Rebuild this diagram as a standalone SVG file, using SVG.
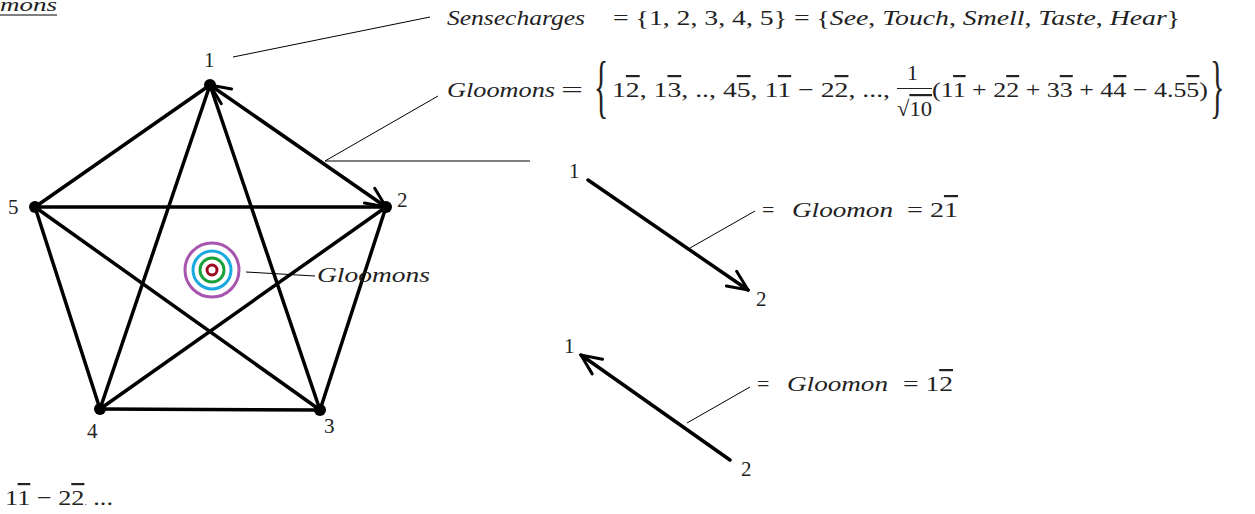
<svg xmlns="http://www.w3.org/2000/svg" width="1255" height="514" viewBox="0 0 1255 514">
<style>
.t{font-family:"Liberation Serif","DejaVu Serif",serif;font-size:22px;fill:#222}
.n{font-size:21px}
.i{font-style:italic}
.ov{text-decoration:overline}
.br{font-size:50px}
.edge{stroke:#000;stroke-width:3.5;fill:none;stroke-linecap:round}
.thin{stroke:#000;stroke-width:1;fill:none}
.dot{fill:#000}
.arr{stroke:#000;stroke-width:3.5;fill:none;stroke-linecap:round}
</style>
<defs>
<marker id="v" viewBox="-22 -11 24 22" refX="0" refY="0" markerWidth="24" markerHeight="22" markerUnits="userSpaceOnUse" orient="auto-start-reverse">
<path d="M-20,-9 L0,0 L-20,9" fill="none" stroke="#000" stroke-width="3" stroke-linecap="round"/>
</marker>
</defs>
<rect width="1255" height="514" fill="#fff"/>

<g id="title-partial">
<text class="t i" x="0" y="11" style="font-size:19px" textLength="57" lengthAdjust="spacingAndGlyphs">mons</text>
<line class="thin" x1="0" y1="15" x2="57" y2="15"/>
</g>

<g id="connectors">
<line class="edge" x1="386" y1="207" x2="320" y2="410"/>
<line class="edge" x1="320" y1="410" x2="100" y2="409"/>
<line class="edge" x1="100" y1="409" x2="35" y2="207"/>
<line class="edge" x1="35" y1="207" x2="210" y2="85"/>
<line class="edge" x1="210" y1="85" x2="320" y2="410"/>
<line class="edge" x1="210" y1="85" x2="100" y2="409"/>
<line class="edge" x1="386" y1="207" x2="100" y2="409"/>
<line class="edge" x1="35" y1="207" x2="386" y2="207"/>
<line class="edge" x1="35" y1="207" x2="320" y2="410"/>
<line class="edge" x1="210" y1="85" x2="386" y2="207" marker-start="url(#v)" marker-end="url(#v)"/>
<line class="arr" x1="588" y1="180" x2="748" y2="290" marker-end="url(#v)"/>
<line class="arr" x1="730" y1="460" x2="581" y2="355" marker-end="url(#v)"/>
<line class="thin" x1="233" y1="57" x2="430" y2="17"/>
<polyline class="thin" points="438,96 325,161 530,161"/>
<line class="thin" x1="246" y1="272" x2="315" y2="276"/>
<line class="thin" x1="690" y1="248" x2="755" y2="211"/>
<line class="thin" x1="687" y1="423" x2="750" y2="387"/>
</g>

<g id="node1"><circle class="dot" cx="210" cy="85" r="6"/><text class="t n" x="204" y="67">1</text></g>
<g id="node2"><circle class="dot" cx="386" cy="207" r="6"/><text class="t n" x="397" y="207">2</text></g>
<g id="node3"><circle class="dot" cx="320" cy="410" r="6"/><text class="t n" x="324" y="433">3</text></g>
<g id="node4"><circle class="dot" cx="100" cy="409" r="6"/><text class="t n" x="87" y="438">4</text></g>
<g id="node5"><circle class="dot" cx="35" cy="207" r="6"/><text class="t n" x="8" y="214">5</text></g>

<g id="target">
<circle cx="212" cy="270" r="27" fill="none" stroke="#a855b0" stroke-width="3"/>
<circle cx="212" cy="270" r="19" fill="none" stroke="#1aa9e0" stroke-width="3"/>
<circle cx="212" cy="270" r="12" fill="none" stroke="#1aa13a" stroke-width="3"/>
<circle cx="212" cy="270" r="5" fill="none" stroke="#9b0a1e" stroke-width="3"/>
<text class="t i" x="317" y="282" textLength="113" lengthAdjust="spacingAndGlyphs">Gloomons</text>
</g>

<g id="sensecharges">
<text class="t i" x="447" y="25" textLength="138" lengthAdjust="spacingAndGlyphs">Sensecharges</text>
<text class="t" x="613" y="25" textLength="567" lengthAdjust="spacingAndGlyphs">= {1, 2, 3, 4, 5} = {<tspan class="i">See</tspan>, <tspan class="i">Touch</tspan>, <tspan class="i">Smell</tspan>, <tspan class="i">Taste</tspan>, <tspan class="i">Hear</tspan>}</text>
</g>

<g id="gloomons-set">
<text class="t i" x="447" y="97" textLength="108" lengthAdjust="spacingAndGlyphs">Gloomons</text>
<text class="t" x="561" y="97" textLength="22" lengthAdjust="spacingAndGlyphs">=</text>
<text class="t br" x="0" y="0" transform="translate(594,110) scale(0.6,1.4)">{</text>
<text class="t" x="612" y="97" textLength="278" lengthAdjust="spacingAndGlyphs">1<tspan class="ov">2</tspan>, 1<tspan class="ov">3</tspan>, .., 4<tspan class="ov">5</tspan>, 1<tspan class="ov">1</tspan> − 2<tspan class="ov">2</tspan>, ...,</text>
<text class="t" x="907" y="80">1</text>
<line x1="897" y1="88.5" x2="932" y2="88.5" stroke="#222" stroke-width="1.2"/>
<text class="t" x="897" y="116" textLength="35" lengthAdjust="spacingAndGlyphs">√<tspan class="ov">10</tspan></text>
<text class="t" x="932" y="97" textLength="276" lengthAdjust="spacingAndGlyphs">(1<tspan class="ov">1</tspan> + 2<tspan class="ov">2</tspan> + 3<tspan class="ov">3</tspan> + 4<tspan class="ov">4</tspan> − 4.5<tspan class="ov">5</tspan>)</text>
<text class="t br" x="0" y="0" transform="translate(1210,110) scale(0.6,1.4)">}</text>
</g>

<g id="gloomon-21">
<text class="t n" x="569" y="178">1</text>
<text class="t n" x="756" y="306">2</text>
<text class="t" x="762" y="217">=</text>
<text class="t i" x="792" y="217" textLength="101" lengthAdjust="spacingAndGlyphs">Gloomon</text>
<text class="t" x="907" y="217" textLength="51" lengthAdjust="spacingAndGlyphs">= 2<tspan class="ov">1</tspan></text>
</g>

<g id="gloomon-12">
<text class="t n" x="564" y="353">1</text>
<text class="t n" x="741" y="476">2</text>
<text class="t" x="757" y="391">=</text>
<text class="t i" x="787" y="391" textLength="101" lengthAdjust="spacingAndGlyphs">Gloomon</text>
<text class="t" x="903" y="391" textLength="50" lengthAdjust="spacingAndGlyphs">= 1<tspan class="ov">2</tspan></text>
</g>

<g id="bottom-note">
<text class="t" x="5" y="505" textLength="108" lengthAdjust="spacingAndGlyphs">1<tspan class="ov">1</tspan> − 2<tspan class="ov">2</tspan><tspan style="font-size:8px">.</tspan> ...</text>
</g>
</svg>
